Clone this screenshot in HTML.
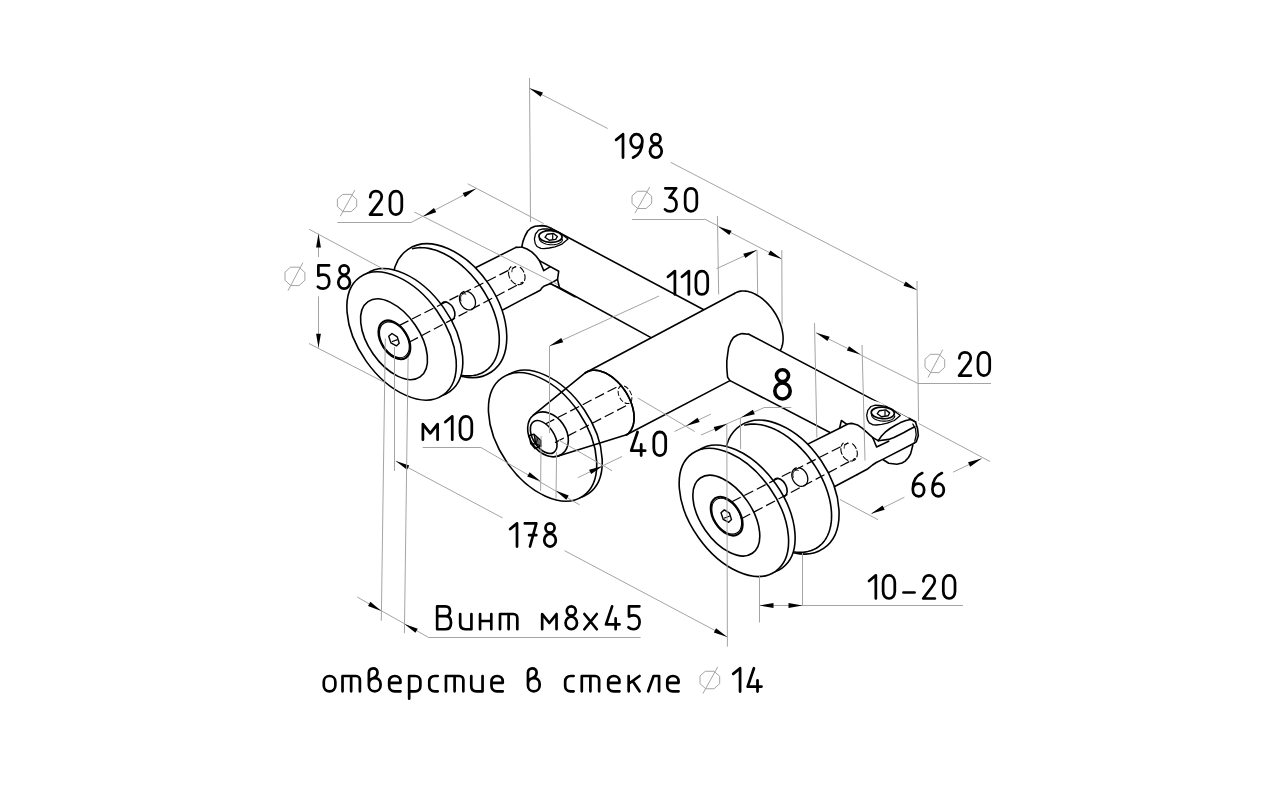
<!DOCTYPE html>
<html><head><meta charset="utf-8"><style>
html,body{margin:0;padding:0;background:#fff;overflow:hidden;}
svg{display:block;}
text{font-family:"Liberation Sans",sans-serif;fill:#000;}
</style></head><body>
<svg width="1280" height="799" viewBox="0 0 1280 799">
<rect width="1280" height="799" fill="#fff"/>
<path d="M551.00,228.30 L703.80,309.80 L650.60,337.40 L551.00,283.00 Z" fill="#fff" stroke="none" stroke-width="1.6" stroke-linejoin="round" stroke-linecap="round" />
<path d="M551.00,228.30 L703.80,309.80" fill="none" stroke="#000" stroke-width="1.6" stroke-linejoin="round" stroke-linecap="round" />
<path d="M551.00,283.00 L650.60,337.40" fill="none" stroke="#000" stroke-width="1.6" stroke-linejoin="round" stroke-linecap="round" />
<path d="M585.47,372.73 L734.47,293.48 L735.50,292.86 L736.59,292.32 L737.72,291.88 L738.90,291.52 L740.13,291.25 L741.40,291.07 L742.70,290.99 L744.04,291.00 L745.41,291.10 L746.81,291.29 L748.23,291.57 L749.66,291.94 L751.11,292.40 L752.58,292.95 L754.04,293.59 L755.51,294.31 L756.98,295.11 L758.45,296.00 L759.90,296.96 L761.34,298.00 L762.77,299.11 L764.17,300.29 L765.55,301.53 L766.90,302.84 L768.21,304.21 L769.49,305.63 L770.73,307.11 L771.93,308.63 L773.08,310.20 L774.18,311.81 L775.23,313.45 L776.22,315.12 L777.16,316.81 L778.03,318.53 L778.84,320.27 L779.59,322.01 L780.26,323.77 L780.87,325.52 L781.41,327.27 L781.88,329.02 L782.27,330.75 L782.58,332.46 L782.83,334.16 L782.99,335.82 L783.08,337.46 L783.09,339.06 L783.03,340.62 L782.88,342.13 L782.67,343.60 L782.37,345.02 L782.00,346.38 L781.56,347.68 L781.04,348.91 L780.45,350.08 L779.80,351.18 L779.07,352.20 L778.28,353.15 L777.42,354.02 L776.51,354.81 L775.53,355.52 L626.53,434.77 L626.53,434.77 L625.50,435.39 L624.41,435.93 L623.28,436.37 L622.10,436.73 L620.87,437.00 L619.60,437.18 L618.30,437.26 L616.96,437.25 L615.59,437.15 L614.19,436.96 L612.77,436.68 L611.34,436.31 L609.89,435.85 L608.42,435.30 L606.96,434.66 L605.49,433.94 L604.02,433.14 L602.55,432.25 L601.10,431.29 L599.66,430.25 L598.23,429.14 L596.83,427.96 L595.45,426.72 L594.10,425.41 L592.79,424.04 L591.51,422.62 L590.27,421.14 L589.07,419.62 L587.92,418.05 L586.82,416.44 L585.77,414.80 L584.78,413.13 L583.84,411.44 L582.97,409.72 L582.16,407.98 L581.41,406.24 L580.74,404.48 L580.13,402.73 L579.59,400.98 L579.12,399.23 L578.73,397.50 L578.42,395.79 L578.17,394.09 L578.01,392.43 L577.92,390.79 L577.91,389.19 L577.97,387.63 L578.12,386.12 L578.33,384.65 L578.63,383.23 L579.00,381.87 L579.44,380.57 L579.96,379.34 L580.55,378.17 L581.20,377.07 L581.93,376.05 L582.72,375.10 L583.58,374.23 L584.49,373.44 L585.47,372.73 Z" fill="#fff" stroke="none" stroke-width="1.6" stroke-linejoin="round" stroke-linecap="round" />
<path d="M585.47,372.73 L734.47,293.48" fill="none" stroke="#000" stroke-width="1.6" stroke-linejoin="round" stroke-linecap="round" />
<path d="M626.53,434.77 L730.00,380.60" fill="none" stroke="#000" stroke-width="1.6" stroke-linejoin="round" stroke-linecap="round" />
<path d="M734.47,293.48 L735.41,292.91 L736.40,292.41 L737.43,291.98 L738.50,291.63 L739.62,291.35 L740.76,291.15 L741.94,291.03 L743.15,290.98 L744.38,291.01 L745.64,291.12 L746.93,291.31 L748.23,291.57 L749.54,291.91 L750.87,292.32 L752.21,292.81 L753.55,293.37 L754.90,294.00 L756.25,294.70 L757.59,295.47 L758.93,296.31 L760.26,297.21 L761.58,298.18 L762.89,299.20 L764.17,300.29 L765.43,301.43 L766.67,302.62 L767.89,303.86 L769.07,305.15 L770.22,306.49 L771.34,307.87 L772.41,309.28 L773.45,310.73 L774.45,312.21 L775.40,313.72 L776.30,315.26 L777.16,316.81 L777.96,318.39 L778.71,319.98 L779.41,321.58 L780.05,323.18 L780.63,324.79 L781.15,326.40 L781.61,328.00 L782.01,329.60 L782.35,331.18 L782.63,332.75 L782.84,334.30 L782.99,335.82 L783.08,337.32 L783.10,338.79 L783.05,340.23 L782.94,341.63 L782.77,343.00 L782.53,344.32 L782.23,345.59 L781.86,346.82 L781.44,347.99 L780.95,349.11 L780.40,350.17 L779.80,351.18" fill="none" stroke="#000" stroke-width="1.6" stroke-linejoin="round" stroke-linecap="round" />
<path d="M585.47,372.73 L586.50,372.11 L587.59,371.57 L588.72,371.13 L589.90,370.77 L591.13,370.50 L592.40,370.32 L593.70,370.24 L595.04,370.25 L596.41,370.35 L597.81,370.54 L599.23,370.82 L600.66,371.19 L602.11,371.65 L603.58,372.20 L605.04,372.84 L606.51,373.56 L607.98,374.36 L609.45,375.25 L610.90,376.21 L612.34,377.25 L613.77,378.36 L615.17,379.54 L616.55,380.78 L617.90,382.09 L619.21,383.46 L620.49,384.88 L621.73,386.36 L622.93,387.88 L624.08,389.45 L625.18,391.06 L626.23,392.70 L627.22,394.37 L628.16,396.06 L629.03,397.78 L629.84,399.52 L630.59,401.26 L631.26,403.02 L631.87,404.77 L632.41,406.52 L632.88,408.27 L633.27,410.00 L633.58,411.71 L633.83,413.41 L633.99,415.07 L634.08,416.71 L634.09,418.31 L634.03,419.87 L633.88,421.38 L633.67,422.85 L633.37,424.27 L633.00,425.63 L632.56,426.93 L632.04,428.16 L631.45,429.33 L630.80,430.43 L630.07,431.45 L629.28,432.40 L628.42,433.27 L627.51,434.06 L626.53,434.77" fill="none" stroke="#000" stroke-width="1.6" stroke-linejoin="round" stroke-linecap="round" />
<path d="M748.80,334.20 L742.00,333.60 L737.40,335.00 L733.50,337.50 L730.90,341.50 L728.60,347.50 L727.60,354.60 L726.80,361.00 L726.80,367.60 L727.20,373.00 L727.60,377.30 L730.00,380.60 L830.00,432.50 L912.00,445.00 L912.30,420.40 Z" fill="#fff" stroke="none" stroke-width="1.6" stroke-linejoin="round" stroke-linecap="round" />
<path d="M748.80,334.20 L742.00,333.60 L737.40,335.00 L733.50,337.50 L730.90,341.50 L728.60,347.50 L727.60,354.60 L726.80,361.00 L726.80,367.60 L727.20,373.00 L727.60,377.30 L730.00,380.60" fill="none" stroke="#000" stroke-width="1.6" stroke-linejoin="round" stroke-linecap="round" />
<path d="M748.80,334.20 L912.30,420.40" fill="none" stroke="#000" stroke-width="1.6" stroke-linejoin="round" stroke-linecap="round" />
<path d="M730.00,380.60 L830.00,432.50" fill="none" stroke="#000" stroke-width="1.6" stroke-linejoin="round" stroke-linecap="round" />
<path d="M460.00,275.50 L516.00,247.40 L522.00,246.80 L545.00,262.00 L558.00,287.00 L540.60,290.00 L525.00,298.10 L485.00,319.30 Z" fill="#fff" stroke="none" stroke-width="1.6" stroke-linejoin="round" stroke-linecap="round" />
<path d="M460.00,275.50 L516.00,247.40" fill="none" stroke="#000" stroke-width="1.6" stroke-linejoin="round" stroke-linecap="round" />
<path d="M485.00,319.30 L525.00,298.10" fill="none" stroke="#000" stroke-width="1.6" stroke-linejoin="round" stroke-linecap="round" />
<path d="M516.00,247.40 L521.80,247.00 L522.90,241.60 L527.70,231.00 L535.00,226.20 L542.50,225.60 L550.00,227.80 L551.00,228.30 L568.00,239.00 L566.00,252.00 L558.75,271.25 L557.50,279.40 L559.40,287.50 L550.00,283.75 L543.75,286.25 L540.60,290.00 L525.00,298.10 Z" fill="#fff" stroke="none" stroke-width="1.6" stroke-linejoin="round" stroke-linecap="round" />
<path d="M516.00,247.40 L519.50,247.30 L521.80,247.00 L522.90,241.60 L525.00,236.00 L527.70,231.00 L531.00,228.00 L535.00,226.20 L542.50,225.60 L547.00,226.40 L551.00,228.30" fill="none" stroke="#000" stroke-width="1.6" stroke-linejoin="round" stroke-linecap="round" />
<path d="M521.80,247.00 L527.00,249.00 L532.00,252.20 L536.00,256.00 L539.40,260.60 L541.60,265.50 L543.75,270.60 L550.00,266.90" fill="none" stroke="#000" stroke-width="1.6" stroke-linejoin="round" stroke-linecap="round" />
<path d="M539.40,260.60 L558.75,271.25 L557.50,279.40 L559.40,287.50" fill="none" stroke="#000" stroke-width="1.6" stroke-linejoin="round" stroke-linecap="round" />
<path d="M557.50,279.40 L550.00,283.75 L543.75,286.25 L541.50,288.30 L540.60,290.00 L536.00,292.50 L525.00,298.10" fill="none" stroke="#000" stroke-width="1.6" stroke-linejoin="round" stroke-linecap="round" />
<path d="M550.00,283.75 L559.40,287.50" fill="none" stroke="#000" stroke-width="1.2" stroke-linejoin="round" stroke-linecap="round" />
<path d="M550.00,283.40 L575.00,296.80" fill="none" stroke="#000" stroke-width="1.6" stroke-linejoin="round" stroke-linecap="round" />
<path d="M534.40,239.00 L535.50,234.00 L538.60,230.10 L543.00,228.80 L547.10,229.00 L553.50,229.90 L560.00,233.00 L568.00,239.00 L562.00,244.10 L555.00,246.80 L549.30,248.00 L544.00,248.60 L540.80,248.40 L537.00,246.50 L535.20,243.50 L534.40,239.00" fill="none" stroke="#000" stroke-width="1.3" stroke-linejoin="round" stroke-linecap="round" />
<ellipse cx="550.50" cy="236.50" rx="11.60" ry="5.80" transform="rotate(3.00 550.50 236.50)" fill="none" stroke="#000" stroke-width="1.7" />
<path d="M562.48,239.51 L562.39,240.11 L562.17,240.70 L561.82,241.27 L561.36,241.81 L560.78,242.32 L560.09,242.80 L559.31,243.23 L558.43,243.61 L557.46,243.94 L556.43,244.22 L555.33,244.44 L554.19,244.60 L553.01,244.69 L551.81,244.72 L550.60,244.69 L549.39,244.60 L548.19,244.44 L547.03,244.22 L545.91,243.94 L544.85,243.61 L543.85,243.23 L542.92,242.80 L542.09,242.32 L541.35,241.81 L540.72,241.27 L540.19,240.70 L539.79,240.11 L539.51,239.51 L539.35,238.90 L539.32,238.29" fill="none" stroke="#000" stroke-width="1.1" stroke-linejoin="round" stroke-linecap="round" />
<path d="M545.00,237.30 L547.10,234.30 L553.50,233.50 L557.40,236.50 L555.70,239.40 L549.30,240.30 Z" fill="none" stroke="#000" stroke-width="1.4" stroke-linejoin="round" stroke-linecap="round" />
<line x1="552.70" y1="234.20" x2="552.70" y2="239.40" stroke="#000" stroke-width="1.2" />
<ellipse cx="449.66" cy="310.67" rx="74.15" ry="47.25" transform="rotate(55.85 449.66 310.67)" fill="#fff" stroke="#000" stroke-width="1.6" />
<path d="M412.56,248.67 L414.41,248.26 L416.32,247.95 L418.27,247.76 L420.27,247.67 L422.31,247.69 L424.39,247.82 L426.50,248.05 L428.64,248.40 L430.81,248.85 L433.00,249.41 L435.21,250.07 L437.43,250.84 L439.67,251.71 L441.92,252.68 L444.17,253.75 L446.42,254.92 L448.67,256.18 L450.91,257.54 L453.14,258.99 L455.35,260.54 L457.55,262.16 L459.72,263.87 L461.87,265.67 L463.99,267.53 L466.08,269.48 L468.13,271.50 L470.14,273.58 L472.11,275.73 L474.03,277.94 L475.90,280.21 L477.72,282.53 L479.48,284.89 L481.18,287.31 L482.82,289.77 L484.40,292.26 L485.91,294.79 L487.34,297.34 L488.71,299.92 L490.00,302.52 L491.22,305.14 L492.35,307.76 L493.41,310.40 L494.38,313.03 L495.27,315.67 L496.07,318.29 L496.78,320.91 L497.41,323.51 L497.95,326.09 L498.39,328.65 L498.75,331.18 L499.01,333.67 L499.19,336.13 L499.27,338.55 L499.25,340.92 L499.15,343.24 L498.95,345.51 L498.66,347.72 L498.28,349.88 L497.81,351.96 L497.24,353.98 L496.59,355.93 L495.85,357.80 L495.03,359.60 L494.12,361.32 L493.12,362.95 L492.04,364.49 L490.89,365.95 L489.65,367.31 L488.34,368.58 L486.95,369.76 L485.49,370.83 L483.96,371.81 L482.37,372.68 L480.71,373.46 L478.99,374.12 L477.21,374.69 L475.38,375.14 L473.50,375.49 L471.56,375.73 L469.58,375.87 L467.56,375.89 L465.50,375.81 L463.40,375.62 L461.27,375.32 L459.12,374.91 L456.94,374.40 L454.73,373.78 L452.51,373.06 L450.28,372.23 L448.04,371.30" fill="none" stroke="#000" stroke-width="1.6" stroke-linejoin="round" stroke-linecap="round" />
<ellipse cx="447.50" cy="311.30" rx="10.00" ry="6.50" transform="rotate(62.00 447.50 311.30)" fill="#fff" stroke="#000" stroke-width="1.6" />
<ellipse cx="408.10" cy="332.75" rx="72.14" ry="43.43" transform="rotate(54.71 408.10 332.75)" fill="#fff" stroke="#000" stroke-width="1.6" />
<ellipse cx="401.58" cy="336.01" rx="72.14" ry="43.43" transform="rotate(54.71 401.58 336.01)" fill="#fff" stroke="#000" stroke-width="1.6" />
<ellipse cx="394.03" cy="339.24" rx="45.76" ry="25.55" transform="rotate(55.34 394.03 339.24)" fill="none" stroke="#000" stroke-width="1.6" />
<ellipse cx="394.40" cy="339.80" rx="21.30" ry="13.20" transform="rotate(57.60 394.40 339.80)" fill="none" stroke="#000" stroke-width="2.1" />
<ellipse cx="394.40" cy="339.80" rx="19.60" ry="12.50" transform="rotate(57.60 394.40 339.80)" fill="none" stroke="#000" stroke-width="1.1" />
<path d="M388.70,336.30 L392.00,333.50 L397.20,336.80 L399.20,343.20 L396.40,345.90 L390.90,342.90 Z" fill="none" stroke="#000" stroke-width="1.4" stroke-linejoin="round" stroke-linecap="round" /><line x1="391.70" y1="341.80" x2="397.50" y2="339.60" stroke="#000" stroke-width="1.2" />
<line x1="399.50" y1="325.40" x2="516.00" y2="266.50" stroke="#000" stroke-width="1.2" stroke-dasharray="10,4"/>
<line x1="409.10" y1="342.30" x2="523.00" y2="282.00" stroke="#000" stroke-width="1.2" stroke-dasharray="10,4"/>
<path d="M466.78,291.37 L467.77,291.60 L468.75,291.97 L469.72,292.47 L470.65,293.10 L471.53,293.84 L472.35,294.68 L473.09,295.62 L473.76,296.63 L474.32,297.70 L474.78,298.81 L475.13,299.96 L475.37,301.11 L475.48,302.25 L475.47,303.37 L475.34,304.45 L475.09,305.47 L474.73,306.41 L474.25,307.26 L473.67,308.02 L473.00,308.66 L472.24,309.18 L471.41,309.56 L470.52,309.81 L469.59,309.92 L468.62,309.89 L467.64,309.71 L466.65,309.40 L465.68,308.95 L464.73,308.37 L463.83,307.68 L462.98,306.87 L462.20,305.98 L461.51,305.00 L460.90,303.95 L460.39,302.85 L460.00,301.72 L459.72,300.57 L459.55,299.42 L459.51,298.29 L459.59,297.19 L459.79,296.14 L460.11,295.17 L460.54,294.28 L461.08,293.48 L461.71,292.79 L462.44,292.22 L463.24,291.78 L464.10,291.48" fill="none" stroke="#000" stroke-width="1.3" stroke-linejoin="round" stroke-linecap="round" />
<path d="M460.97,300.99 L460.75,300.02 L460.63,299.07 L460.61,298.16 L460.69,297.30 L460.86,296.50 L461.13,295.79 L461.49,295.17 L461.93,294.65 L462.46,294.25 L463.04,293.96 L463.69,293.80 L464.38,293.76 L465.11,293.85 L465.86,294.07" fill="none" stroke="#000" stroke-width="1.0" stroke-linejoin="round" stroke-linecap="round" />
<path d="M520.22,267.41 L521.14,268.23 L521.99,269.16 L522.75,270.18 L523.43,271.28 L523.99,272.43 L524.44,273.63 L524.77,274.85 L524.97,276.08 L525.04,277.28 L524.98,278.45 L524.79,279.57 L524.47,280.61 L524.03,281.56 L523.47,282.41 L522.81,283.14 L522.05,283.74 L521.20,284.19 L520.29,284.51 L519.31,284.67 L518.30,284.67 L517.27,284.52 L516.23,284.22 L515.19,283.77 L514.19,283.18 L513.22,282.46 L512.31,281.62 L511.47,280.68 L510.72,279.64 L510.07,278.53 L509.52,277.36 L509.09,276.16 L508.78,274.93 L508.61,273.71 L508.56,272.51 L508.64,271.35 L508.86,270.25 L509.20,269.22 L509.66,268.28 L510.24,267.46 L510.92,266.75" fill="none" stroke="#000" stroke-width="1.1" stroke-linejoin="round" stroke-linecap="round" stroke-dasharray="6,2.5"/>
<path d="M511.91,271.82 L511.94,271.11 L512.03,270.43 L512.19,269.81 L512.40,269.23 L512.67,268.70 L512.99,268.24 L513.37,267.84 L513.79,267.51 L514.25,267.26 L514.76,267.08 L515.29,266.98 L515.85,266.96" fill="none" stroke="#000" stroke-width="0.9" stroke-linejoin="round" stroke-linecap="round" />
<path d="M792.30,451.90 L839.60,428.20 L847.30,423.90 L872.30,436.40 L892.30,456.40 L890.30,466.40 L857.30,474.50 L817.30,495.70 Z" fill="#fff" stroke="none" stroke-width="1.6" stroke-linejoin="round" stroke-linecap="round" />
<path d="M792.30,451.90 L839.60,428.20" fill="none" stroke="#000" stroke-width="1.6" stroke-linejoin="round" stroke-linecap="round" />
<path d="M817.30,495.70 L857.30,474.50" fill="none" stroke="#000" stroke-width="1.6" stroke-linejoin="round" stroke-linecap="round" />
<path d="M839.60,428.10 L841.40,420.50 L846.90,424.30 L860.00,410.00 L865.00,398.00 L880.00,402.60 L909.30,418.40 L915.50,421.90 L918.30,435.70 L914.10,443.20 L912.80,445.30 L910.70,453.60 L905.20,461.10 L896.90,464.20 L888.70,463.20 L883.20,459.80 L876.30,462.50 L868.00,468.70 L857.30,474.50 Z" fill="#fff" stroke="none" stroke-width="1.6" stroke-linejoin="round" stroke-linecap="round" />
<path d="M909.30,418.40 L915.50,421.90" fill="none" stroke="#000" stroke-width="1.6" stroke-linejoin="round" stroke-linecap="round" />
<path d="M839.60,428.10 L841.40,420.50 L846.90,424.30" fill="none" stroke="#000" stroke-width="1.6" stroke-linejoin="round" stroke-linecap="round" />
<path d="M839.60,428.20 L847.30,424.30" fill="none" stroke="#000" stroke-width="1.6" stroke-linejoin="round" stroke-linecap="round" />
<path d="M847.30,424.30 L849.50,423.60 L852.50,423.40 L857.50,424.90 L862.50,428.30 L867.50,432.80 L872.80,437.70" fill="none" stroke="#000" stroke-width="1.6" stroke-linejoin="round" stroke-linecap="round" />
<path d="M872.80,437.70 L876.60,447.00 L888.70,441.20" fill="none" stroke="#000" stroke-width="1.6" stroke-linejoin="round" stroke-linecap="round" />
<path d="M872.80,437.70 L878.30,440.60" fill="none" stroke="#000" stroke-width="1.6" stroke-linejoin="round" stroke-linecap="round" />
<path d="M878.30,440.60 L881.50,436.00 L885.20,432.20 L890.00,428.50 L895.50,425.30 L900.50,422.60 L905.90,420.50 L910.70,419.50 L915.50,421.90" fill="none" stroke="#000" stroke-width="1.6" stroke-linejoin="round" stroke-linecap="round" />
<path d="M878.30,440.80 L888.70,439.40 L894.00,437.50 L899.00,435.00 L904.00,432.50 L909.30,429.50 L914.80,426.70" fill="none" stroke="#000" stroke-width="1.6" stroke-linejoin="round" stroke-linecap="round" />
<path d="M915.50,421.90 L917.60,428.80 L918.30,435.70 L916.20,441.90 L914.10,443.20" fill="none" stroke="#000" stroke-width="1.6" stroke-linejoin="round" stroke-linecap="round" />
<path d="M912.80,424.00 L915.50,428.80 L916.20,435.00 L914.80,441.20" fill="none" stroke="#000" stroke-width="1.3" stroke-linejoin="round" stroke-linecap="round" />
<path d="M857.30,474.50 L868.00,468.70 L872.50,465.00 L876.30,462.50 L883.20,459.10 L914.10,443.20" fill="none" stroke="#000" stroke-width="1.6" stroke-linejoin="round" stroke-linecap="round" />
<path d="M883.20,459.80 L888.70,463.20 L896.90,464.20 L902.00,463.00 L905.20,461.10 L908.50,457.50 L910.70,453.60 L912.80,445.30" fill="none" stroke="#000" stroke-width="1.6" stroke-linejoin="round" stroke-linecap="round" />
<path d="M866.70,415.40 L867.80,410.40 L870.90,406.50 L875.30,405.20 L879.40,405.40 L885.80,406.30 L892.30,409.40 L900.30,415.40 L894.30,420.50 L887.30,423.20 L881.60,424.40 L876.30,425.00 L873.10,424.80 L869.30,422.90 L867.50,419.90 L866.70,415.40" fill="none" stroke="#000" stroke-width="1.3" stroke-linejoin="round" stroke-linecap="round" />
<ellipse cx="882.80" cy="412.90" rx="11.60" ry="5.80" transform="rotate(3.00 882.80 412.90)" fill="none" stroke="#000" stroke-width="1.7" />
<path d="M894.78,415.91 L894.69,416.51 L894.47,417.10 L894.12,417.67 L893.66,418.21 L893.08,418.72 L892.39,419.20 L891.61,419.63 L890.73,420.01 L889.76,420.34 L888.73,420.62 L887.63,420.84 L886.49,421.00 L885.31,421.09 L884.11,421.12 L882.90,421.09 L881.69,421.00 L880.49,420.84 L879.33,420.62 L878.21,420.34 L877.15,420.01 L876.15,419.63 L875.22,419.20 L874.39,418.72 L873.65,418.21 L873.02,417.67 L872.49,417.10 L872.09,416.51 L871.81,415.91 L871.65,415.30 L871.62,414.69" fill="none" stroke="#000" stroke-width="1.1" stroke-linejoin="round" stroke-linecap="round" />
<path d="M877.30,413.70 L879.40,410.70 L885.80,409.90 L889.70,412.90 L888.00,415.80 L881.60,416.70 Z" fill="none" stroke="#000" stroke-width="1.4" stroke-linejoin="round" stroke-linecap="round" />
<line x1="885.00" y1="410.60" x2="885.00" y2="415.80" stroke="#000" stroke-width="1.2" />
<ellipse cx="781.96" cy="487.07" rx="74.15" ry="47.25" transform="rotate(55.85 781.96 487.07)" fill="#fff" stroke="#000" stroke-width="1.6" />
<path d="M744.86,425.07 L746.71,424.66 L748.62,424.35 L750.57,424.16 L752.57,424.07 L754.61,424.09 L756.69,424.22 L758.80,424.45 L760.94,424.80 L763.11,425.25 L765.30,425.81 L767.51,426.47 L769.73,427.24 L771.97,428.11 L774.22,429.08 L776.47,430.15 L778.72,431.32 L780.97,432.58 L783.21,433.94 L785.44,435.39 L787.65,436.94 L789.85,438.56 L792.02,440.27 L794.17,442.07 L796.29,443.93 L798.38,445.88 L800.43,447.90 L802.44,449.98 L804.41,452.13 L806.33,454.34 L808.20,456.61 L810.02,458.93 L811.78,461.29 L813.48,463.71 L815.12,466.17 L816.70,468.66 L818.21,471.19 L819.64,473.74 L821.01,476.32 L822.30,478.92 L823.52,481.54 L824.65,484.16 L825.71,486.80 L826.68,489.43 L827.57,492.07 L828.37,494.69 L829.08,497.31 L829.71,499.91 L830.25,502.49 L830.69,505.05 L831.05,507.58 L831.31,510.07 L831.49,512.53 L831.57,514.95 L831.55,517.32 L831.45,519.64 L831.25,521.91 L830.96,524.12 L830.58,526.28 L830.11,528.36 L829.54,530.38 L828.89,532.33 L828.15,534.20 L827.33,536.00 L826.42,537.72 L825.42,539.35 L824.34,540.89 L823.19,542.35 L821.95,543.71 L820.64,544.98 L819.25,546.16 L817.79,547.23 L816.26,548.21 L814.67,549.08 L813.01,549.86 L811.29,550.52 L809.51,551.09 L807.68,551.54 L805.80,551.89 L803.86,552.13 L801.88,552.27 L799.86,552.29 L797.80,552.21 L795.70,552.02 L793.57,551.72 L791.42,551.31 L789.24,550.80 L787.03,550.18 L784.81,549.46 L782.58,548.63 L780.34,547.70" fill="none" stroke="#000" stroke-width="1.6" stroke-linejoin="round" stroke-linecap="round" />
<ellipse cx="779.80" cy="487.70" rx="10.00" ry="6.50" transform="rotate(62.00 779.80 487.70)" fill="#fff" stroke="#000" stroke-width="1.6" />
<ellipse cx="740.40" cy="509.15" rx="72.14" ry="43.43" transform="rotate(54.71 740.40 509.15)" fill="#fff" stroke="#000" stroke-width="1.6" />
<ellipse cx="733.88" cy="512.41" rx="72.14" ry="43.43" transform="rotate(54.71 733.88 512.41)" fill="#fff" stroke="#000" stroke-width="1.6" />
<ellipse cx="726.33" cy="515.64" rx="45.76" ry="25.55" transform="rotate(55.34 726.33 515.64)" fill="none" stroke="#000" stroke-width="1.6" />
<ellipse cx="726.70" cy="516.20" rx="21.30" ry="13.20" transform="rotate(57.60 726.70 516.20)" fill="none" stroke="#000" stroke-width="2.1" />
<ellipse cx="726.70" cy="516.20" rx="19.60" ry="12.50" transform="rotate(57.60 726.70 516.20)" fill="none" stroke="#000" stroke-width="1.1" />
<path d="M721.00,512.70 L724.30,509.90 L729.50,513.20 L731.50,519.60 L728.70,522.30 L723.20,519.30 Z" fill="none" stroke="#000" stroke-width="1.4" stroke-linejoin="round" stroke-linecap="round" /><line x1="724.00" y1="518.20" x2="729.80" y2="516.00" stroke="#000" stroke-width="1.2" />
<line x1="731.80" y1="501.80" x2="848.30" y2="442.90" stroke="#000" stroke-width="1.2" stroke-dasharray="10,4"/>
<line x1="741.40" y1="518.70" x2="855.30" y2="458.40" stroke="#000" stroke-width="1.2" stroke-dasharray="10,4"/>
<path d="M799.08,467.77 L800.07,468.00 L801.05,468.37 L802.02,468.87 L802.95,469.50 L803.83,470.24 L804.65,471.08 L805.39,472.02 L806.06,473.03 L806.62,474.10 L807.08,475.21 L807.43,476.36 L807.67,477.51 L807.78,478.65 L807.77,479.77 L807.64,480.85 L807.39,481.87 L807.03,482.81 L806.55,483.66 L805.97,484.42 L805.30,485.06 L804.54,485.58 L803.71,485.96 L802.82,486.21 L801.89,486.32 L800.92,486.29 L799.94,486.11 L798.95,485.80 L797.98,485.35 L797.03,484.77 L796.13,484.08 L795.28,483.27 L794.50,482.38 L793.81,481.40 L793.20,480.35 L792.69,479.25 L792.30,478.12 L792.02,476.97 L791.85,475.82 L791.81,474.69 L791.89,473.59 L792.09,472.54 L792.41,471.57 L792.84,470.68 L793.38,469.88 L794.01,469.19 L794.74,468.62 L795.54,468.18 L796.40,467.88" fill="none" stroke="#000" stroke-width="1.3" stroke-linejoin="round" stroke-linecap="round" />
<path d="M793.27,477.39 L793.05,476.42 L792.93,475.47 L792.91,474.56 L792.99,473.70 L793.16,472.90 L793.43,472.19 L793.79,471.57 L794.23,471.05 L794.76,470.65 L795.34,470.36 L795.99,470.20 L796.68,470.16 L797.41,470.25 L798.16,470.47" fill="none" stroke="#000" stroke-width="1.0" stroke-linejoin="round" stroke-linecap="round" />
<path d="M852.52,443.81 L853.44,444.63 L854.29,445.56 L855.05,446.58 L855.73,447.68 L856.29,448.83 L856.74,450.03 L857.07,451.25 L857.27,452.48 L857.34,453.68 L857.28,454.85 L857.09,455.97 L856.77,457.01 L856.33,457.96 L855.77,458.81 L855.11,459.54 L854.35,460.14 L853.50,460.59 L852.59,460.91 L851.61,461.07 L850.60,461.07 L849.57,460.92 L848.53,460.62 L847.49,460.17 L846.49,459.58 L845.52,458.86 L844.61,458.02 L843.77,457.08 L843.02,456.04 L842.37,454.93 L841.82,453.76 L841.39,452.56 L841.08,451.33 L840.91,450.11 L840.86,448.91 L840.94,447.75 L841.16,446.65 L841.50,445.62 L841.96,444.68 L842.54,443.86 L843.22,443.15" fill="none" stroke="#000" stroke-width="1.1" stroke-linejoin="round" stroke-linecap="round" stroke-dasharray="6,2.5"/>
<path d="M844.21,448.22 L844.24,447.51 L844.33,446.83 L844.49,446.21 L844.70,445.63 L844.97,445.10 L845.29,444.64 L845.67,444.24 L846.09,443.91 L846.55,443.66 L847.06,443.48 L847.59,443.38 L848.15,443.36" fill="none" stroke="#000" stroke-width="0.9" stroke-linejoin="round" stroke-linecap="round" />
<ellipse cx="548.08" cy="434.39" rx="71.64" ry="43.74" transform="rotate(55.77 548.08 434.39)" fill="#fff" stroke="#000" stroke-width="1.6" />
<ellipse cx="542.58" cy="436.89" rx="71.64" ry="43.74" transform="rotate(55.77 542.58 436.89)" fill="#fff" stroke="#000" stroke-width="1.6" />
<ellipse cx="548.00" cy="434.40" rx="24.20" ry="18.20" transform="rotate(55.10 548.00 434.40)" fill="none" stroke="#000" stroke-width="1.6" />
<ellipse cx="543.70" cy="437.05" rx="18.40" ry="10.50" transform="rotate(57.00 543.70 437.05)" fill="none" stroke="#000" stroke-width="1.6" />
<path d="M533.30,415.20 L585.50,372.70" fill="none" stroke="#000" stroke-width="1.6" stroke-linejoin="round" stroke-linecap="round" />
<path d="M558.30,456.10 L626.50,434.80" fill="none" stroke="#000" stroke-width="1.6" stroke-linejoin="round" stroke-linecap="round" />
<path d="M585.47,372.73 L586.50,372.11 L587.59,371.57 L588.72,371.13 L589.90,370.77 L591.13,370.50 L592.40,370.32 L593.70,370.24 L595.04,370.25 L596.41,370.35 L597.81,370.54 L599.23,370.82 L600.66,371.19 L602.11,371.65 L603.58,372.20 L605.04,372.84 L606.51,373.56 L607.98,374.36 L609.45,375.25 L610.90,376.21 L612.34,377.25 L613.77,378.36 L615.17,379.54 L616.55,380.78 L617.90,382.09 L619.21,383.46 L620.49,384.88 L621.73,386.36 L622.93,387.88 L624.08,389.45 L625.18,391.06 L626.23,392.70 L627.22,394.37 L628.16,396.06 L629.03,397.78 L629.84,399.52 L630.59,401.26 L631.26,403.02 L631.87,404.77 L632.41,406.52 L632.88,408.27 L633.27,410.00 L633.58,411.71 L633.83,413.41 L633.99,415.07 L634.08,416.71 L634.09,418.31 L634.03,419.87 L633.88,421.38 L633.67,422.85 L633.37,424.27 L633.00,425.63 L632.56,426.93 L632.04,428.16 L631.45,429.33 L630.80,430.43 L630.07,431.45 L629.28,432.40 L628.42,433.27 L627.51,434.06 L626.53,434.77" fill="none" stroke="#000" stroke-width="1.6" stroke-linejoin="round" stroke-linecap="round" />
<line x1="545.40" y1="424.00" x2="618.40" y2="386.20" stroke="#000" stroke-width="1.2" stroke-dasharray="10,4"/>
<line x1="555.00" y1="442.60" x2="629.40" y2="404.00" stroke="#000" stroke-width="1.2" stroke-dasharray="10,4"/>
<ellipse cx="625.00" cy="394.70" rx="9.50" ry="6.00" transform="rotate(62.00 625.00 394.70)" fill="none" stroke="#000" stroke-width="1.0" stroke-dasharray="5,2"/>
<line x1="534.60" y1="435.60" x2="535.60" y2="444.80" stroke="#000" stroke-width="0.9" />
<line x1="536.00" y1="436.90" x2="536.85" y2="445.05" stroke="#000" stroke-width="0.9" />
<line x1="537.40" y1="438.20" x2="538.10" y2="445.30" stroke="#000" stroke-width="0.9" />
<line x1="538.80" y1="439.50" x2="539.35" y2="445.55" stroke="#000" stroke-width="0.9" />
<line x1="540.20" y1="440.80" x2="540.60" y2="445.80" stroke="#000" stroke-width="0.9" />
<path d="M529.30,435.50 L534.00,434.30 L540.80,440.50 L540.80,446.00 L535.00,448.50 L530.80,443.50 Z" fill="none" stroke="#000" stroke-width="1.5" stroke-linejoin="round" stroke-linecap="round" />
<path d="M530.80,443.50 L536.00,444.20 L540.80,446.00" fill="none" stroke="#000" stroke-width="1.3" stroke-linejoin="round" stroke-linecap="round" />
<path d="M534.00,434.30 L536.00,444.20" fill="none" stroke="#000" stroke-width="1.2" stroke-linejoin="round" stroke-linecap="round" />
<line x1="529.50" y1="78.00" x2="530.50" y2="222.00" stroke="#a4a4a4" stroke-width="1.0" />
<line x1="529.40" y1="88.20" x2="607.70" y2="128.50" stroke="#a4a4a4" stroke-width="1.0" />
<line x1="670.60" y1="162.30" x2="917.00" y2="290.00" stroke="#a4a4a4" stroke-width="1.0" />
<path d="M529.40,88.20 L542.93,92.54 L540.71,96.79 Z" fill="#000"/>
<path d="M917.00,290.00 L903.47,285.66 L905.69,281.41 Z" fill="#000"/>
<line x1="917.00" y1="281.00" x2="918.50" y2="421.00" stroke="#a4a4a4" stroke-width="1.0" />
<line x1="337.40" y1="222.50" x2="411.60" y2="222.50" stroke="#a4a4a4" stroke-width="1.0" />
<line x1="411.60" y1="222.20" x2="476.20" y2="188.50" stroke="#a4a4a4" stroke-width="1.0" />
<path d="M422.70,216.70 L433.97,208.05 L436.20,212.30 Z" fill="#000"/>
<path d="M476.20,188.50 L464.93,197.15 L462.70,192.90 Z" fill="#000"/>
<line x1="414.30" y1="212.00" x2="558.00" y2="284.60" stroke="#a4a4a4" stroke-width="1.0" />
<line x1="467.80" y1="183.80" x2="543.70" y2="223.60" stroke="#a4a4a4" stroke-width="1.0" />
<line x1="318.50" y1="233.50" x2="318.50" y2="257.00" stroke="#a4a4a4" stroke-width="1.0" />
<line x1="318.50" y1="296.40" x2="318.50" y2="347.70" stroke="#a4a4a4" stroke-width="1.0" />
<path d="M318.50,233.50 L320.90,247.50 L316.10,247.50 Z" fill="#000"/>
<path d="M318.50,347.70 L316.10,333.70 L320.90,333.70 Z" fill="#000"/>
<line x1="309.00" y1="229.20" x2="386.00" y2="270.50" stroke="#a4a4a4" stroke-width="1.0" />
<line x1="309.00" y1="343.50" x2="385.00" y2="382.70" stroke="#a4a4a4" stroke-width="1.0" />
<line x1="632.00" y1="219.50" x2="704.60" y2="219.50" stroke="#a4a4a4" stroke-width="1.0" />
<line x1="704.60" y1="219.00" x2="781.80" y2="259.00" stroke="#a4a4a4" stroke-width="1.0" />
<path d="M718.00,226.40 L731.56,230.63 L729.37,234.91 Z" fill="#000"/>
<path d="M781.80,259.00 L768.24,254.77 L770.43,250.49 Z" fill="#000"/>
<line x1="717.40" y1="216.00" x2="718.70" y2="294.40" stroke="#a4a4a4" stroke-width="1.0" />
<line x1="781.80" y1="250.00" x2="782.10" y2="323.70" stroke="#a4a4a4" stroke-width="1.0" />
<line x1="549.50" y1="346.00" x2="659.00" y2="296.00" stroke="#a4a4a4" stroke-width="1.0" />
<line x1="716.50" y1="268.70" x2="757.00" y2="250.00" stroke="#a4a4a4" stroke-width="1.0" />
<path d="M549.50,346.00 L561.24,338.00 L563.23,342.37 Z" fill="#000"/>
<path d="M757.00,250.00 L745.29,258.05 L743.28,253.69 Z" fill="#000"/>
<line x1="757.00" y1="250.00" x2="757.70" y2="294.00" stroke="#a4a4a4" stroke-width="1.0" />
<line x1="549.50" y1="346.00" x2="549.50" y2="433.00" stroke="#a4a4a4" stroke-width="1.0" />
<line x1="917.00" y1="383.50" x2="991.00" y2="383.50" stroke="#a4a4a4" stroke-width="1.0" />
<line x1="917.00" y1="383.00" x2="816.00" y2="332.70" stroke="#a4a4a4" stroke-width="1.0" />
<path d="M816.00,332.70 L829.60,336.79 L827.46,341.09 Z" fill="#000"/>
<path d="M860.50,354.60 L846.88,350.57 L849.00,346.26 Z" fill="#000"/>
<line x1="814.50" y1="323.00" x2="816.90" y2="437.50" stroke="#a4a4a4" stroke-width="1.0" />
<line x1="862.00" y1="345.00" x2="865.00" y2="460.60" stroke="#a4a4a4" stroke-width="1.0" />
<line x1="701.00" y1="435.00" x2="765.00" y2="407.25" stroke="#a4a4a4" stroke-width="1.0" />
<line x1="765.00" y1="407.50" x2="791.25" y2="407.50" stroke="#a4a4a4" stroke-width="1.0" />
<path d="M727.50,423.80 L715.54,431.46 L713.67,427.04 Z" fill="#000"/>
<path d="M741.00,417.60 L752.91,409.85 L754.81,414.26 Z" fill="#000"/>
<line x1="726.80" y1="424.00" x2="727.40" y2="646.70" stroke="#a4a4a4" stroke-width="1.0" />
<line x1="740.40" y1="418.00" x2="740.60" y2="449.00" stroke="#a4a4a4" stroke-width="1.0" />
<line x1="871.10" y1="513.80" x2="904.40" y2="497.20" stroke="#a4a4a4" stroke-width="1.0" />
<line x1="953.10" y1="472.20" x2="981.70" y2="458.40" stroke="#a4a4a4" stroke-width="1.0" />
<path d="M871.10,513.80 L882.56,505.41 L884.70,509.70 Z" fill="#000"/>
<path d="M981.70,458.40 L970.13,466.65 L968.05,462.32 Z" fill="#000"/>
<line x1="840.00" y1="499.50" x2="878.00" y2="519.70" stroke="#a4a4a4" stroke-width="1.0" />
<line x1="918.70" y1="423.50" x2="990.00" y2="461.50" stroke="#a4a4a4" stroke-width="1.0" />
<line x1="577.80" y1="477.70" x2="622.00" y2="456.50" stroke="#a4a4a4" stroke-width="1.0" />
<line x1="674.50" y1="431.50" x2="711.00" y2="414.00" stroke="#a4a4a4" stroke-width="1.0" />
<path d="M602.80,465.90 L591.16,474.05 L589.12,469.71 Z" fill="#000"/>
<path d="M686.00,426.00 L697.58,417.78 L699.66,422.11 Z" fill="#000"/>
<line x1="637.70" y1="398.00" x2="694.70" y2="431.50" stroke="#a4a4a4" stroke-width="1.0" />
<line x1="558.60" y1="440.00" x2="612.00" y2="470.70" stroke="#a4a4a4" stroke-width="1.0" />
<line x1="422.60" y1="447.50" x2="480.80" y2="447.50" stroke="#a4a4a4" stroke-width="1.0" />
<line x1="480.80" y1="447.40" x2="579.60" y2="504.90" stroke="#a4a4a4" stroke-width="1.0" />
<path d="M540.60,481.20 L527.23,476.40 L529.59,472.22 Z" fill="#000"/>
<path d="M555.50,490.40 L568.73,495.56 L566.26,499.67 Z" fill="#000"/>
<line x1="541.10" y1="436.00" x2="540.60" y2="490.80" stroke="#a4a4a4" stroke-width="1.0" />
<line x1="556.60" y1="452.00" x2="556.00" y2="498.70" stroke="#a4a4a4" stroke-width="1.0" />
<line x1="395.80" y1="461.10" x2="502.70" y2="518.00" stroke="#a4a4a4" stroke-width="1.0" />
<line x1="564.60" y1="550.70" x2="727.30" y2="637.00" stroke="#a4a4a4" stroke-width="1.0" />
<path d="M395.80,461.10 L409.29,465.56 L407.03,469.80 Z" fill="#000"/>
<path d="M727.30,637.00 L713.81,632.56 L716.06,628.32 Z" fill="#000"/>
<line x1="394.50" y1="347.00" x2="394.50" y2="471.00" stroke="#a4a4a4" stroke-width="1.0" />
<line x1="759.10" y1="605.50" x2="963.00" y2="605.50" stroke="#a4a4a4" stroke-width="1.0" />
<path d="M759.50,605.50 L773.50,603.10 L773.50,607.90 Z" fill="#000"/>
<path d="M802.50,605.50 L788.50,607.90 L788.50,603.10 Z" fill="#000"/>
<line x1="759.50" y1="576.00" x2="759.50" y2="622.50" stroke="#a4a4a4" stroke-width="1.0" />
<line x1="802.50" y1="553.00" x2="802.50" y2="605.60" stroke="#a4a4a4" stroke-width="1.0" />
<line x1="357.30" y1="597.10" x2="428.50" y2="637.40" stroke="#a4a4a4" stroke-width="1.0" />
<line x1="428.50" y1="637.50" x2="640.60" y2="637.50" stroke="#a4a4a4" stroke-width="1.0" />
<path d="M381.30,610.90 L367.97,606.00 L370.36,601.84 Z" fill="#000"/>
<path d="M404.40,623.90 L417.79,628.65 L415.44,632.84 Z" fill="#000"/>
<line x1="385.30" y1="338.50" x2="381.30" y2="620.70" stroke="#a4a4a4" stroke-width="1.0" />
<line x1="408.10" y1="357.50" x2="404.40" y2="633.30" stroke="#a4a4a4" stroke-width="1.0" />
<g class="tx">
<path d="M8.2,24.7 L8.2,1.3 L1.3,7" transform="translate(614.80,132.90) scale(1.0000,1.0000)" fill="none" stroke="#000" stroke-width="2.75" stroke-linecap="round" stroke-linejoin="round"/>
<path d="M7.15,1.3 A5.85,6.8 0 1 1 7.15,14.9 A5.85,6.8 0 1 1 7.15,1.3 Z M13,8.1 C13,16.5 9.5,22.5 3.7,24.7" transform="translate(629.35,132.90) scale(1.0000,1.0000)" fill="none" stroke="#000" stroke-width="2.75" stroke-linecap="round" stroke-linejoin="round"/>
<path d="M7.15,1.3 A4.6,4.7 0 1 1 7.15,10.7 A4.6,4.7 0 1 1 7.15,1.3 Z M7.15,11.9 A5.85,6.4 0 1 1 7.15,24.7 A5.85,6.4 0 1 1 7.15,11.9 Z" transform="translate(648.70,132.90) scale(1.0000,1.0000)" fill="none" stroke="#000" stroke-width="2.75" stroke-linecap="round" stroke-linejoin="round"/>
<path d="M1.5,7.4 C1.5,3.7 4,1.3 7.2,1.3 C10.5,1.3 13,3.7 13,7 C13,9.3 12,10.8 10.3,12.8 L1.3,24.7 L13.1,24.7" transform="translate(368.70,189.80) scale(1.0038,1.0038)" fill="none" stroke="#000" stroke-width="2.75" stroke-linecap="round" stroke-linejoin="round"/>
<path d="M1.3,8.5 C1.3,4.2 3.9,1.3 7.2,1.3 C10.5,1.3 13.1,4.2 13.1,8.5 L13.1,17.5 C13.1,21.8 10.5,24.7 7.2,24.7 C3.9,24.7 1.3,21.8 1.3,17.5 Z" transform="translate(388.64,189.80) scale(1.0038,1.0038)" fill="none" stroke="#000" stroke-width="2.75" stroke-linecap="round" stroke-linejoin="round"/>
<path d="M343.00,194.40 L351.10,194.40 L356.70,199.39 L356.70,206.61 L351.10,211.60 L343.00,211.60 L337.40,206.61 L337.40,199.39 Z" fill="none" stroke="#a4a4a4" stroke-width="1.0" stroke-linejoin="round" stroke-linecap="round" /><line x1="340.29" y1="216.24" x2="354.77" y2="190.10" stroke="#a4a4a4" stroke-width="1.0" />
<path d="M12.5,1.3 L1.8,1.3 L1.8,11.6 C3.2,10.9 4.9,10.5 6.6,10.5 C10.4,10.5 12.7,13.3 12.7,17.4 C12.7,21.8 10.2,24.7 6.6,24.7 C4.5,24.7 2.6,24 1.3,22.7" transform="translate(316.60,264.10) scale(0.9962,0.9962)" fill="none" stroke="#000" stroke-width="2.75" stroke-linecap="round" stroke-linejoin="round"/>
<path d="M7.15,1.3 A4.6,4.7 0 1 1 7.15,10.7 A4.6,4.7 0 1 1 7.15,1.3 Z M7.15,11.9 A5.85,6.4 0 1 1 7.15,24.7 A5.85,6.4 0 1 1 7.15,11.9 Z" transform="translate(337.00,264.10) scale(0.9962,0.9962)" fill="none" stroke="#000" stroke-width="2.75" stroke-linecap="round" stroke-linejoin="round"/>
<path d="M290.77,267.20 L299.13,267.20 L304.90,272.54 L304.90,280.26 L299.13,285.60 L290.77,285.60 L285.00,280.26 L285.00,272.54 Z" fill="none" stroke="#a4a4a4" stroke-width="1.0" stroke-linejoin="round" stroke-linecap="round" /><line x1="287.99" y1="290.57" x2="302.91" y2="262.60" stroke="#a4a4a4" stroke-width="1.0" />
<path d="M1.6,1.3 L12.6,1.3 L5.8,10.6 C10.3,10.4 13,13.2 13,17.6 C13,21.9 10.3,24.7 6.8,24.7 C4.6,24.7 2.6,24 1.3,22.6" transform="translate(663.70,187.00) scale(0.9885,0.9885)" fill="none" stroke="#000" stroke-width="2.75" stroke-linecap="round" stroke-linejoin="round"/>
<path d="M1.3,8.5 C1.3,4.2 3.9,1.3 7.2,1.3 C10.5,1.3 13.1,4.2 13.1,8.5 L13.1,17.5 C13.1,21.8 10.5,24.7 7.2,24.7 C3.9,24.7 1.3,21.8 1.3,17.5 Z" transform="translate(683.87,187.00) scale(0.9885,0.9885)" fill="none" stroke="#000" stroke-width="2.75" stroke-linecap="round" stroke-linejoin="round"/>
<path d="M637.71,191.25 L645.99,191.25 L651.70,196.25 L651.70,203.50 L645.99,208.50 L637.71,208.50 L632.00,203.50 L632.00,196.25 Z" fill="none" stroke="#a4a4a4" stroke-width="1.0" stroke-linejoin="round" stroke-linecap="round" /><line x1="634.96" y1="213.16" x2="649.73" y2="186.94" stroke="#a4a4a4" stroke-width="1.0" />
<path d="M8.2,24.7 L8.2,1.3 L1.3,7" transform="translate(666.70,269.80) scale(1.0000,1.0000)" fill="none" stroke="#000" stroke-width="2.75" stroke-linecap="round" stroke-linejoin="round"/>
<path d="M8.2,24.7 L8.2,1.3 L1.3,7" transform="translate(680.65,269.80) scale(1.0000,1.0000)" fill="none" stroke="#000" stroke-width="2.75" stroke-linecap="round" stroke-linejoin="round"/>
<path d="M1.3,8.5 C1.3,4.2 3.9,1.3 7.2,1.3 C10.5,1.3 13.1,4.2 13.1,8.5 L13.1,17.5 C13.1,21.8 10.5,24.7 7.2,24.7 C3.9,24.7 1.3,21.8 1.3,17.5 Z" transform="translate(694.60,269.80) scale(1.0000,1.0000)" fill="none" stroke="#000" stroke-width="2.75" stroke-linecap="round" stroke-linejoin="round"/>
<path d="M1.5,7.4 C1.5,3.7 4,1.3 7.2,1.3 C10.5,1.3 13,3.7 13,7 C13,9.3 12,10.8 10.3,12.8 L1.3,24.7 L13.1,24.7" transform="translate(957.80,351.00) scale(0.9962,0.9962)" fill="none" stroke="#000" stroke-width="2.75" stroke-linecap="round" stroke-linejoin="round"/>
<path d="M1.3,8.5 C1.3,4.2 3.9,1.3 7.2,1.3 C10.5,1.3 13.1,4.2 13.1,8.5 L13.1,17.5 C13.1,21.8 10.5,24.7 7.2,24.7 C3.9,24.7 1.3,21.8 1.3,17.5 Z" transform="translate(976.66,351.00) scale(0.9962,0.9962)" fill="none" stroke="#000" stroke-width="2.75" stroke-linecap="round" stroke-linejoin="round"/>
<path d="M930.71,354.30 L938.99,354.30 L944.70,359.61 L944.70,367.29 L938.99,372.60 L930.71,372.60 L925.00,367.29 L925.00,359.61 Z" fill="none" stroke="#a4a4a4" stroke-width="1.0" stroke-linejoin="round" stroke-linecap="round" /><line x1="927.96" y1="377.54" x2="942.73" y2="349.73" stroke="#a4a4a4" stroke-width="1.0" />
<path d="M7.15,1.3 A4.6,4.7 0 1 1 7.15,10.7 A4.6,4.7 0 1 1 7.15,1.3 Z M7.15,11.9 A5.85,6.4 0 1 1 7.15,24.7 A5.85,6.4 0 1 1 7.15,11.9 Z" transform="translate(773.10,368.10) scale(1.3147,1.2500)" fill="none" stroke="#000" stroke-width="2.75" stroke-linecap="round" stroke-linejoin="round"/>
<path d="M10.8,1.3 C5.2,3.6 1.3,8.8 1.3,17.6 C1.3,21.9 3.8,24.7 7,24.7 C10.2,24.7 12.7,21.9 12.7,18.2 C12.7,14.5 10.2,11.9 7,11.9 C4.4,11.9 2.2,13.5 1.5,15.8" transform="translate(911.50,471.80) scale(0.9962,0.9962)" fill="none" stroke="#000" stroke-width="2.75" stroke-linecap="round" stroke-linejoin="round"/>
<path d="M10.8,1.3 C5.2,3.6 1.3,8.8 1.3,17.6 C1.3,21.9 3.8,24.7 7,24.7 C10.2,24.7 12.7,21.9 12.7,18.2 C12.7,14.5 10.2,11.9 7,11.9 C4.4,11.9 2.2,13.5 1.5,15.8" transform="translate(931.15,471.80) scale(0.9962,0.9962)" fill="none" stroke="#000" stroke-width="2.75" stroke-linecap="round" stroke-linejoin="round"/>
<path d="M7.6,1.3 L1.3,19.8 L15.2,19.8 M11.2,13.6 L11.2,24.7" transform="translate(629.90,430.70) scale(1.0077,1.0077)" fill="none" stroke="#000" stroke-width="2.75" stroke-linecap="round" stroke-linejoin="round"/>
<path d="M1.3,8.5 C1.3,4.2 3.9,1.3 7.2,1.3 C10.5,1.3 13.1,4.2 13.1,8.5 L13.1,17.5 C13.1,21.8 10.5,24.7 7.2,24.7 C3.9,24.7 1.3,21.8 1.3,17.5 Z" transform="translate(652.49,430.70) scale(1.0077,1.0077)" fill="none" stroke="#000" stroke-width="2.75" stroke-linecap="round" stroke-linejoin="round"/>
<path d="M1.3,24.7 L1.3,9.1 L8.65,18.3 L16,9.1 L16,24.7" transform="translate(421.60,415.00) scale(1.0000,1.0000)" fill="none" stroke="#000" stroke-width="2.75" stroke-linecap="round" stroke-linejoin="round"/>
<path d="M8.2,24.7 L8.2,1.3 L1.3,7" transform="translate(444.05,415.00) scale(1.0000,1.0000)" fill="none" stroke="#000" stroke-width="2.75" stroke-linecap="round" stroke-linejoin="round"/>
<path d="M1.3,8.5 C1.3,4.2 3.9,1.3 7.2,1.3 C10.5,1.3 13.1,4.2 13.1,8.5 L13.1,17.5 C13.1,21.8 10.5,24.7 7.2,24.7 C3.9,24.7 1.3,21.8 1.3,17.5 Z" transform="translate(458.70,415.00) scale(1.0000,1.0000)" fill="none" stroke="#000" stroke-width="2.75" stroke-linecap="round" stroke-linejoin="round"/>
<path d="M8.2,24.7 L8.2,1.3 L1.3,7" transform="translate(508.90,522.10) scale(0.9885,0.9885)" fill="none" stroke="#000" stroke-width="2.75" stroke-linecap="round" stroke-linejoin="round"/>
<path d="M1.2,1.3 L12.8,1.3 L6.4,24.7 M5.5,13.2 L12.8,13.2" transform="translate(523.66,522.10) scale(0.9885,0.9885)" fill="none" stroke="#000" stroke-width="2.75" stroke-linecap="round" stroke-linejoin="round"/>
<path d="M7.15,1.3 A4.6,4.7 0 1 1 7.15,10.7 A4.6,4.7 0 1 1 7.15,1.3 Z M7.15,11.9 A5.85,6.4 0 1 1 7.15,24.7 A5.85,6.4 0 1 1 7.15,11.9 Z" transform="translate(542.97,522.10) scale(0.9885,0.9885)" fill="none" stroke="#000" stroke-width="2.75" stroke-linecap="round" stroke-linejoin="round"/>
<path d="M8.2,24.7 L8.2,1.3 L1.3,7" transform="translate(867.70,574.00) scale(0.9923,0.9923)" fill="none" stroke="#000" stroke-width="2.75" stroke-linecap="round" stroke-linejoin="round"/>
<path d="M1.3,8.5 C1.3,4.2 3.9,1.3 7.2,1.3 C10.5,1.3 13.1,4.2 13.1,8.5 L13.1,17.5 C13.1,21.8 10.5,24.7 7.2,24.7 C3.9,24.7 1.3,21.8 1.3,17.5 Z" transform="translate(881.81,574.00) scale(0.9923,0.9923)" fill="none" stroke="#000" stroke-width="2.75" stroke-linecap="round" stroke-linejoin="round"/>
<path d="M1.5,7.4 C1.5,3.7 4,1.3 7.2,1.3 C10.5,1.3 13,3.7 13,7 C13,9.3 12,10.8 10.3,12.8 L1.3,24.7 L13.1,24.7" transform="translate(921.90,574.00) scale(0.9923,0.9923)" fill="none" stroke="#000" stroke-width="2.75" stroke-linecap="round" stroke-linejoin="round"/>
<path d="M1.3,8.5 C1.3,4.2 3.9,1.3 7.2,1.3 C10.5,1.3 13.1,4.2 13.1,8.5 L13.1,17.5 C13.1,21.8 10.5,24.7 7.2,24.7 C3.9,24.7 1.3,21.8 1.3,17.5 Z" transform="translate(942.01,574.00) scale(0.9923,0.9923)" fill="none" stroke="#000" stroke-width="2.75" stroke-linecap="round" stroke-linejoin="round"/>
<line x1="903.40" y1="592.50" x2="914.60" y2="592.50" stroke="#000" stroke-width="2.6" stroke-linecap="round"/>
<path d="M1.3,24.7 L1.3,1.3 L9.6,1.3 C12.6,1.3 14.5,3.2 14.5,6.2 C14.5,9.2 12.6,11.3 9.6,11.3 L1.3,11.3 M9.6,11.3 C13.3,11.3 15.5,13.9 15.5,18 C15.5,22.1 13.3,24.7 9.6,24.7 L1.3,24.7" transform="translate(435.90,605.10) scale(0.9769,0.9769)" fill="none" stroke="#000" stroke-width="2.75" stroke-linecap="round" stroke-linejoin="round"/>
<path d="M1.3,9.1 L1.3,19.2 C1.3,22.6 3.3,24.7 6.5,24.7 L12.8,24.7 M12.8,9.1 L12.8,24.7" transform="translate(458.90,605.10) scale(0.9769,0.9769)" fill="none" stroke="#000" stroke-width="2.75" stroke-linecap="round" stroke-linejoin="round"/>
<path d="M1.3,9.1 L1.3,24.7 M12.8,9.1 L12.8,24.7 M1.3,16.3 L12.8,16.3" transform="translate(478.80,605.10) scale(0.9769,0.9769)" fill="none" stroke="#000" stroke-width="2.75" stroke-linecap="round" stroke-linejoin="round"/>
<path d="M1.3,24.7 L1.3,9.1 L15,9.1 C17.3,9.1 19,10.8 19,13.2 L19,24.7 M10.1,9.1 L10.1,24.7" transform="translate(498.75,605.10) scale(0.9769,0.9769)" fill="none" stroke="#000" stroke-width="2.75" stroke-linecap="round" stroke-linejoin="round"/>
<path d="M1.3,24.7 L1.3,9.1 L8.65,18.3 L16,9.1 L16,24.7" transform="translate(540.90,605.10) scale(0.9769,0.9769)" fill="none" stroke="#000" stroke-width="2.75" stroke-linecap="round" stroke-linejoin="round"/>
<path d="M7.15,1.3 A4.6,4.7 0 1 1 7.15,10.7 A4.6,4.7 0 1 1 7.15,1.3 Z M7.15,11.9 A5.85,6.4 0 1 1 7.15,24.7 A5.85,6.4 0 1 1 7.15,11.9 Z" transform="translate(564.30,605.10) scale(0.9769,0.9769)" fill="none" stroke="#000" stroke-width="2.75" stroke-linecap="round" stroke-linejoin="round"/>
<path d="M1.3,9.1 L14,24.7 M14,9.1 L1.3,24.7" transform="translate(583.10,605.10) scale(0.9769,0.9769)" fill="none" stroke="#000" stroke-width="2.75" stroke-linecap="round" stroke-linejoin="round"/>
<path d="M7.6,1.3 L1.3,19.8 L15.2,19.8 M11.2,13.6 L11.2,24.7" transform="translate(604.70,605.10) scale(0.9769,0.9769)" fill="none" stroke="#000" stroke-width="2.75" stroke-linecap="round" stroke-linejoin="round"/>
<path d="M12.5,1.3 L1.8,1.3 L1.8,11.6 C3.2,10.9 4.9,10.5 6.6,10.5 C10.4,10.5 12.7,13.3 12.7,17.4 C12.7,21.8 10.2,24.7 6.6,24.7 C4.5,24.7 2.6,24 1.3,22.7" transform="translate(627.20,605.10) scale(0.9769,0.9769)" fill="none" stroke="#000" stroke-width="2.75" stroke-linecap="round" stroke-linejoin="round"/>
<path d="M7.2,9.1 C10.6,9.1 13.1,11.6 13.1,15 L13.1,18.8 C13.1,22.2 10.6,24.7 7.2,24.7 C3.8,24.7 1.3,22.2 1.3,18.8 L1.3,15 C1.3,11.6 3.8,9.1 7.2,9.1 Z" transform="translate(322.50,667.10) scale(0.9808,0.9808)" fill="none" stroke="#000" stroke-width="2.75" stroke-linecap="round" stroke-linejoin="round"/>
<path d="M1.3,24.7 L1.3,9.1 L15,9.1 C17.3,9.1 19,10.8 19,13.2 L19,24.7 M10.1,9.1 L10.1,24.7" transform="translate(341.25,667.10) scale(0.9808,0.9808)" fill="none" stroke="#000" stroke-width="2.75" stroke-linecap="round" stroke-linejoin="round"/>
<path d="M7.25,11.2 C10.7,11.2 13.2,13.7 13.2,17.2 L13.2,18.7 C13.2,22.2 10.7,24.7 7.25,24.7 C3.8,24.7 1.3,22.2 1.3,18.7 L1.3,17.2 C1.3,13.7 3.8,11.2 7.25,11.2 Z M1.3,17.5 L1.3,5.6 C1.3,3 3.1,1.3 5.7,1.3 C8.3,1.3 10.1,3 10.1,5.4 C10.1,8 8.3,10.2 5.4,11.5" transform="translate(367.60,667.10) scale(0.9808,0.9808)" fill="none" stroke="#000" stroke-width="2.75" stroke-linecap="round" stroke-linejoin="round"/>
<path d="M1.3,16 L12.8,16 L12.8,14.6 C12.8,11.3 10.5,9.1 7.05,9.1 C3.6,9.1 1.3,11.3 1.3,14.6 L1.3,19.2 C1.3,22.5 3.6,24.7 6.9,24.7 L12.8,24.7" transform="translate(387.90,667.10) scale(0.9808,0.9808)" fill="none" stroke="#000" stroke-width="2.75" stroke-linecap="round" stroke-linejoin="round"/>
<path d="M1.3,32.2 L1.3,9.1 L7.4,9.1 C10.6,9.1 12.7,11.3 12.7,14.6 L12.7,19.2 C12.7,22.5 10.6,24.7 7.4,24.7 L1.3,24.7" transform="translate(407.90,667.10) scale(0.9808,0.9808)" fill="none" stroke="#000" stroke-width="2.75" stroke-linecap="round" stroke-linejoin="round"/>
<path d="M9.9,9.1 L6.8,9.1 C3.6,9.1 1.3,11.3 1.3,14.6 L1.3,19.2 C1.3,22.5 3.6,24.7 6.8,24.7 L9.9,24.7" transform="translate(428.00,667.10) scale(0.9808,0.9808)" fill="none" stroke="#000" stroke-width="2.75" stroke-linecap="round" stroke-linejoin="round"/>
<path d="M1.3,24.7 L1.3,9.1 L15,9.1 C17.3,9.1 19,10.8 19,13.2 L19,24.7 M10.1,9.1 L10.1,24.7" transform="translate(444.70,667.10) scale(0.9808,0.9808)" fill="none" stroke="#000" stroke-width="2.75" stroke-linecap="round" stroke-linejoin="round"/>
<path d="M1.3,9.1 L1.3,19.2 C1.3,22.6 3.3,24.7 6.5,24.7 L12.8,24.7 M12.8,9.1 L12.8,24.7" transform="translate(470.00,667.10) scale(0.9808,0.9808)" fill="none" stroke="#000" stroke-width="2.75" stroke-linecap="round" stroke-linejoin="round"/>
<path d="M1.3,16 L12.8,16 L12.8,14.6 C12.8,11.3 10.5,9.1 7.05,9.1 C3.6,9.1 1.3,11.3 1.3,14.6 L1.3,19.2 C1.3,22.5 3.6,24.7 6.9,24.7 L12.8,24.7" transform="translate(490.20,667.10) scale(0.9808,0.9808)" fill="none" stroke="#000" stroke-width="2.75" stroke-linecap="round" stroke-linejoin="round"/>
<path d="M7.25,11.2 C10.7,11.2 13.2,13.7 13.2,17.2 L13.2,18.7 C13.2,22.2 10.7,24.7 7.25,24.7 C3.8,24.7 1.3,22.2 1.3,18.7 L1.3,17.2 C1.3,13.7 3.8,11.2 7.25,11.2 Z M1.3,17.5 L1.3,5.6 C1.3,3 3.1,1.3 5.7,1.3 C8.3,1.3 10.1,3 10.1,5.4 C10.1,8 8.3,10.2 5.4,11.5" transform="translate(526.70,667.10) scale(0.9808,0.9808)" fill="none" stroke="#000" stroke-width="2.75" stroke-linecap="round" stroke-linejoin="round"/>
<path d="M9.9,9.1 L6.8,9.1 C3.6,9.1 1.3,11.3 1.3,14.6 L1.3,19.2 C1.3,22.5 3.6,24.7 6.8,24.7 L9.9,24.7" transform="translate(563.90,667.10) scale(0.9808,0.9808)" fill="none" stroke="#000" stroke-width="2.75" stroke-linecap="round" stroke-linejoin="round"/>
<path d="M1.3,24.7 L1.3,9.1 L15,9.1 C17.3,9.1 19,10.8 19,13.2 L19,24.7 M10.1,9.1 L10.1,24.7" transform="translate(580.50,667.10) scale(0.9808,0.9808)" fill="none" stroke="#000" stroke-width="2.75" stroke-linecap="round" stroke-linejoin="round"/>
<path d="M1.3,16 L12.8,16 L12.8,14.6 C12.8,11.3 10.5,9.1 7.05,9.1 C3.6,9.1 1.3,11.3 1.3,14.6 L1.3,19.2 C1.3,22.5 3.6,24.7 6.9,24.7 L12.8,24.7" transform="translate(606.90,667.10) scale(0.9808,0.9808)" fill="none" stroke="#000" stroke-width="2.75" stroke-linecap="round" stroke-linejoin="round"/>
<path d="M1.3,9.1 L1.3,24.7 M1.3,17 L12.4,9.1 M5.4,14.2 L12.4,24.7" transform="translate(627.40,667.10) scale(0.9808,0.9808)" fill="none" stroke="#000" stroke-width="2.75" stroke-linecap="round" stroke-linejoin="round"/>
<path d="M1.3,24.7 L6.8,9.1 L12.4,9.1 L12.4,24.7" transform="translate(646.90,667.10) scale(0.9808,0.9808)" fill="none" stroke="#000" stroke-width="2.75" stroke-linecap="round" stroke-linejoin="round"/>
<path d="M1.3,16 L12.8,16 L12.8,14.6 C12.8,11.3 10.5,9.1 7.05,9.1 C3.6,9.1 1.3,11.3 1.3,14.6 L1.3,19.2 C1.3,22.5 3.6,24.7 6.9,24.7 L12.8,24.7" transform="translate(666.00,667.10) scale(0.9808,0.9808)" fill="none" stroke="#000" stroke-width="2.75" stroke-linecap="round" stroke-linejoin="round"/>
<path d="M8.2,24.7 L8.2,1.3 L1.3,7" transform="translate(731.90,666.90) scale(0.9962,0.9962)" fill="none" stroke="#000" stroke-width="2.75" stroke-linecap="round" stroke-linejoin="round"/>
<path d="M7.6,1.3 L1.3,19.8 L15.2,19.8 M11.2,13.6 L11.2,24.7" transform="translate(746.36,666.90) scale(0.9962,0.9962)" fill="none" stroke="#000" stroke-width="2.75" stroke-linecap="round" stroke-linejoin="round"/>
<path d="M705.71,671.25 L713.99,671.25 L719.70,676.33 L719.70,683.67 L713.99,688.75 L705.71,688.75 L700.00,683.67 L700.00,676.33 Z" fill="none" stroke="#a4a4a4" stroke-width="1.0" stroke-linejoin="round" stroke-linecap="round" /><line x1="702.96" y1="693.48" x2="717.73" y2="666.88" stroke="#a4a4a4" stroke-width="1.0" />
</g>
</svg></body></html>
